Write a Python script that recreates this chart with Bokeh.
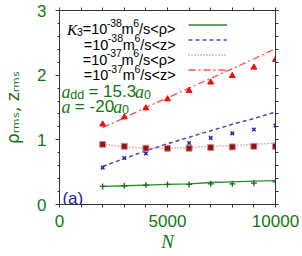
from bokeh.plotting import figure
from bokeh.models import Range1d, LinearAxis, Label, Legend, LegendItem, FixedTicker
from bokeh.embed import file_html
from bokeh.resources import INLINE

# ---------------- data ----------------
N = [2000, 3000, 4000, 5000, 6000, 7000, 8000, 9000, 10000]
rho_38 = [0.28, 0.29, 0.30, 0.31, 0.31, 0.32, 0.32, 0.33, 0.35]
rho_38_fit = [0.28, 0.29, 0.30, 0.31, 0.32, 0.34, 0.35, 0.36, 0.37]
z_38 = [0.57, 0.72, 0.79, 0.87, 0.95, 1.03, 1.10, 1.16, 1.22]
z_38_fit = [0.59, 0.71, 0.83, 0.94, 1.04, 1.14, 1.24, 1.33, 1.43]
rho_37 = [0.93, 0.90, 0.87, 0.87, 0.87, 0.88, 0.89, 0.90, 0.90]
rho_37_fit = [0.93, 0.89, 0.87, 0.87, 0.88, 0.90, 0.91, 0.93, 0.95]
z_37 = [1.24, 1.35, 1.49, 1.63, 1.76, 1.89, 1.99, 2.12, 2.24]
z_37_fit = [1.19, 1.34, 1.50, 1.65, 1.80, 1.95, 2.10, 2.25, 2.41]

x_ticks = [0, 5000, 10000]
x_minor = [1000, 2000, 3000, 4000, 6000, 7000, 8000, 9000]
x_all = [0, 1000, 2000, 3000, 4000, 5000, 6000, 7000, 8000, 9000, 10000]
y_ticks = [0, 1, 2, 3]
y_minor = [0.2, 0.4, 0.6, 0.8, 1.2, 1.4, 1.6, 1.8, 2.2, 2.4, 2.6, 2.8]
exps = ["-38", "-38", "-37", "-37"]
qty = ["<ρ>", "<z>", "<ρ>", "<z>"]
x_label = "N"
y_label = "ρᵣₘₛ, zᵣₘₛ"

# ---------------- styles ----------------
GREEN_TXT = "#117711"
GREEN_LINE = "#2a8a2a"
GREEN_PT = "#1a6a1a"
BLUE_LINE = "#4848b8"
BLUE_PT = "#2a2aa8"
ROSY = "#c07878"
DRED = "#9a1010"
RED_LINE = "#ff5050"
RED_PT = "#ee1010"
AXC = "#333333"
SANS = "Liberation Sans"
SERIF = "Liberation Serif"

W, H = 300, 256
FL, FR, FT, FB = 54, 275, 10, 204   # frame edges in page px

p = figure(width=W, height=H, output_backend="svg", toolbar_location=None,
           x_range=Range1d(0, 10000), y_range=Range1d(0, 3),
           min_border_left=FL, min_border_right=W - FR,
           min_border_top=FT, min_border_bottom=H - FB)
p.xgrid.visible = False
p.ygrid.visible = False
p.outline_line_color = AXC
p.outline_line_alpha = 1.0
p.background_fill_color = "white"
p.border_fill_color = "white"


def style_axis(ax, ticks, minor, maj_out, min_out, standoff):
    ax.ticker = FixedTicker(ticks=ticks, minor_ticks=minor)
    ax.axis_line_color = AXC
    ax.major_tick_line_color = AXC
    ax.minor_tick_line_color = AXC
    ax.major_tick_in = 0
    ax.major_tick_out = maj_out
    ax.minor_tick_in = 0
    ax.minor_tick_out = min_out
    ax.major_label_text_font = SANS
    ax.major_label_text_color = GREEN_TXT
    ax.major_label_text_font_size = "17px"
    ax.major_label_standoff = standoff


xa = p.xaxis[0]
style_axis(xa, x_ticks, x_minor, 3, 3, 7)
xa.axis_label = x_label
xa.axis_label_text_font = SERIF
xa.axis_label_text_font_style = "italic"
xa.axis_label_text_font_size = "19px"
xa.axis_label_text_color = GREEN_TXT
xa.axis_label_standoff = 1

ya = p.yaxis[0]
style_axis(ya, y_ticks, y_minor, 4, 2, 9)
ya.axis_label = y_label
ya.axis_label_text_font = "DejaVu Sans"
ya.axis_label_text_font_style = "normal"
ya.axis_label_text_font_size = "17px"
ya.axis_label_text_color = GREEN_TXT
ya.axis_label_standoff = 11

top = LinearAxis()
style_axis(top, [], x_all, 3, 3, 0)
p.add_layout(top, "above")
right = LinearAxis()
style_axis(right, [], y_ticks + y_minor, 3, 3, 0)
p.add_layout(right, "right")

# ---------------- series ----------------
r1 = p.line(N, rho_38_fit, line_color=GREEN_LINE, line_width=1.3)
p.scatter(N, rho_38, marker="cross", size=6, line_color=GREEN_PT, line_width=1.3)
r2 = p.line(N, z_38_fit, line_color=BLUE_LINE, line_width=1.5, line_dash="4 3")
p.scatter(N, z_38, marker="x", size=5, line_color=BLUE_PT, line_width=1.5)
r3 = p.line(N, rho_37_fit, line_color=ROSY, line_width=1.5, line_dash="1 2")
p.scatter(N, rho_37, marker="square", size=6, fill_color=DRED, line_color="#d09090", line_width=1)
r4 = p.line(N, z_37_fit, line_color=RED_LINE, line_width=1.3, line_dash="7 3 2 3")
p.scatter(N, z_37, marker="triangle", size=6, fill_color=RED_PT, line_color=RED_PT)

legend = Legend(items=[LegendItem(label=" ", renderers=[r]) for r in (r1, r2, r3, r4)],
                location=(129, 127), padding=0, margin=0, spacing=0,
                glyph_width=39, glyph_height=15, label_height=15, label_width=0,
                label_standoff=0, label_text_font_size="1px",
                border_line_alpha=0, background_fill_alpha=0)
p.add_layout(legend)

# ---------------- text helpers ----------------
ADV = {"=": 584, "1": 556, "0": 556, "-": 333, "3": 556, "8": 556, "7": 556, "6": 556,
       "5": 556, "2": 556, ".": 278, " ": 278, "m": 833, "/": 278, "s": 500, "<": 584,
       ">": 584, "ρ": 577, "z": 500, "K": 667, "a": 500, "d": 556, "r": 333, ",": 278,
       "(": 333, ")": 333}


def width(t, size):
    return sum(ADV.get(c, 556) for c in t) * size / 1000.0


def dx(px):
    return (px - FL) / (FR - FL) * 10000


def dy(py):
    return (FB - py) / (FB - FT) * 3


def put(text, px, py, font=SANS, size=14, color="black", style="normal"):
    p.add_layout(Label(x=dx(px), y=dy(py), text=text, text_font=font,
                       text_font_size=f"{size}px", text_color=color,
                       text_font_style=style, text_baseline="alphabetic",
                       text_align="left"))


def run(pieces, x0, base, color="black"):
    """pieces: (text, font, size, style, baseline shift px)"""
    x = x0
    for t, f, s, st, sh in pieces:
        lead = len(t) - len(t.lstrip(" "))
        x += width(" " * lead, s)
        t2 = t.strip(" ")
        put(t2, x, base + sh, f, s, color, st)
        x += width(t2, s) + width(" " * (len(t) - lead - len(t2)), s)
    return x


# legend texts (right aligned at x=172)
MS, SS = 14.5, 10.5
row_base = [28.5, 44, 59, 74.5]
for i in range(4):
    pcs = [("=10", SANS, MS, "normal", 0), (exps[i], SANS, SS, "normal", -6.5),
           ("m", SANS, MS, "normal", 0), ("6", SANS, SS, "normal", -6.5),
           ("/s" + qty[i], SANS, MS, "normal", 0)]
    if i == 0:
        pcs = [("K", SERIF, MS + 1, "italic", 0), ("3", SANS, SS, "normal", 3)] + pcs
    tot = sum(width(t, s) for t, f, s, st, sh in pcs)
    run(pcs, 172 - tot, row_base[i])

# parameters text
run([("a", SERIF, 18, "italic", 0), ("dd", SANS, 12.5, "normal", 3),
     (" = 15.3", SANS, 17, "normal", 0), ("a", SERIF, 18, "italic", 0),
     ("0", SANS, 12.5, "normal", 3)], 56, 91, GREEN_TXT)
run([("a", SERIF, 18, "italic", 0), (" = -20", SANS, 17, "normal", 0),
     ("a", SERIF, 18, "italic", 0), ("0", SANS, 12.5, "normal", 3)], 56, 106, GREEN_TXT)

# panel tag
put("(a)", 57, 198, SANS, 17, "#1c1c9c")

open("out.html", "w").write(file_html(p, INLINE))
